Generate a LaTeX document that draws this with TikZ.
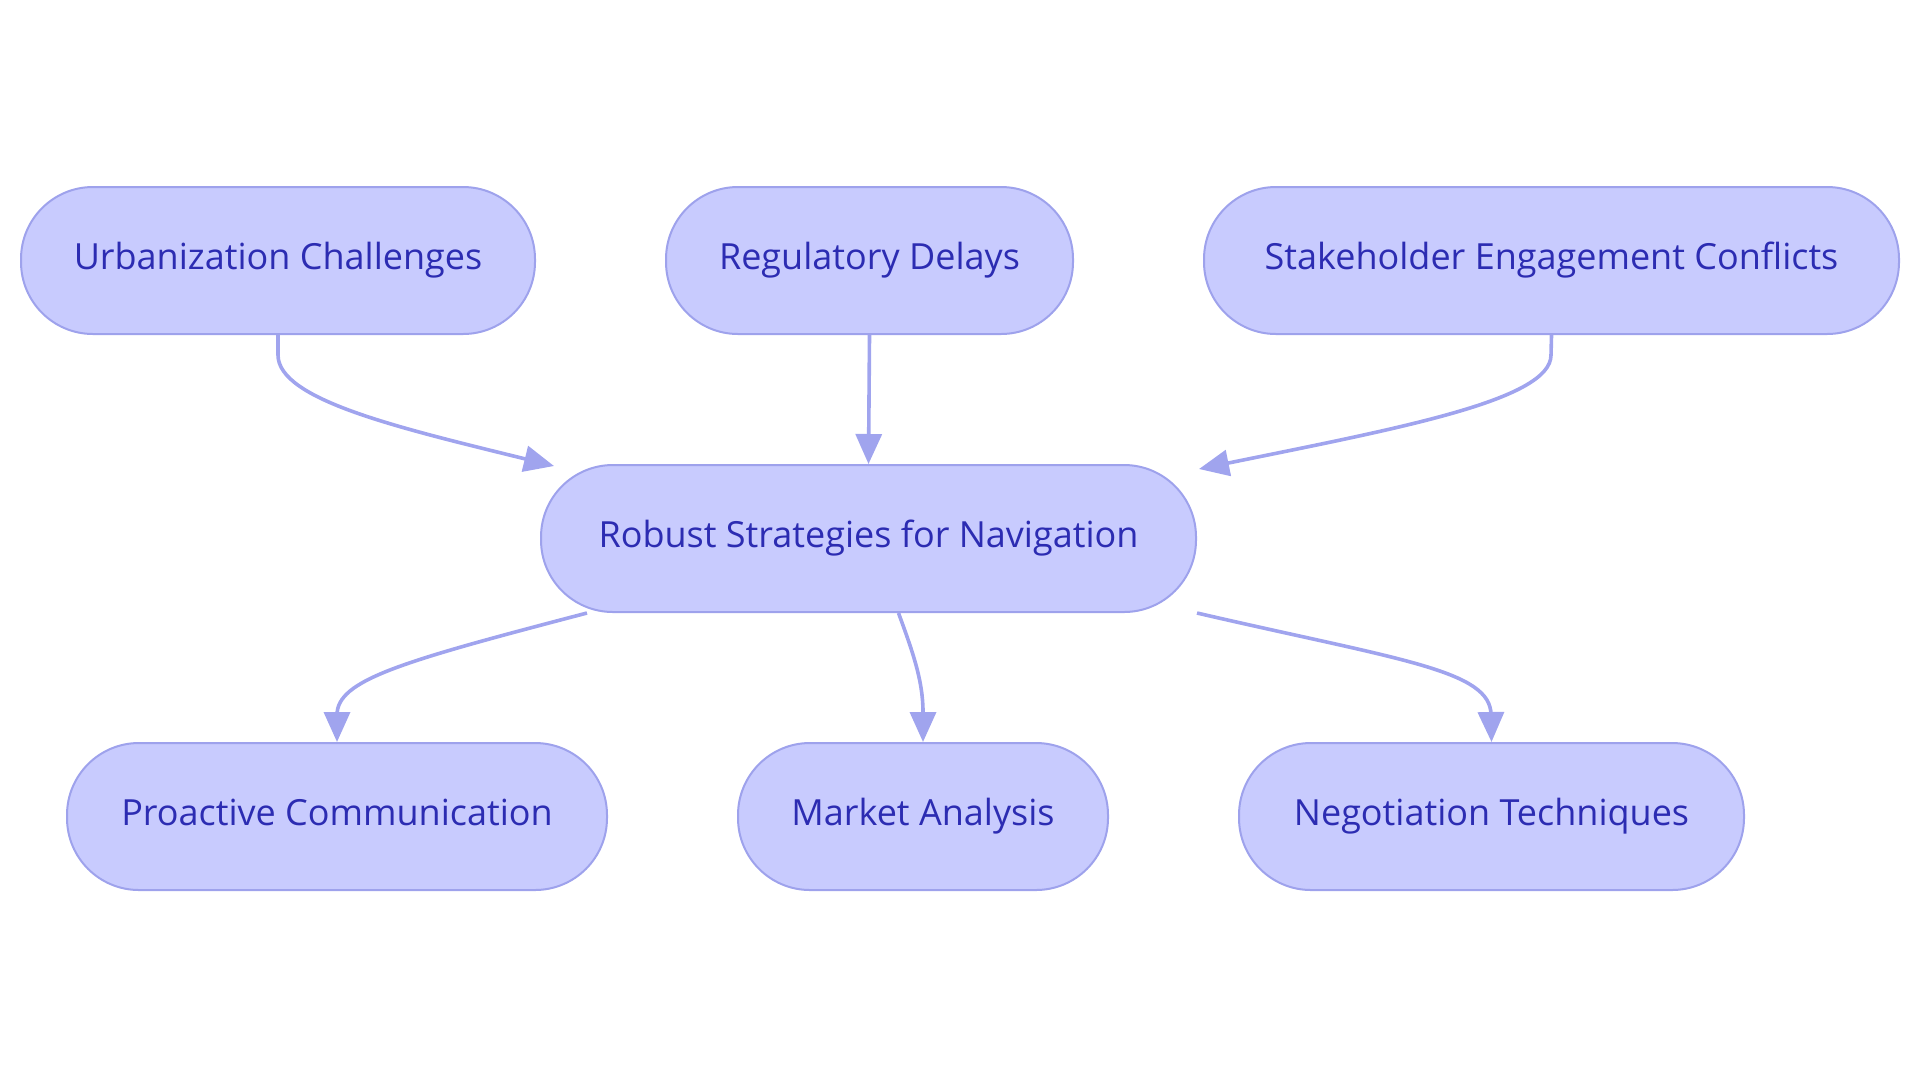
\documentclass[tikz,border=0pt]{standalone}
\usepackage{fontspec}
\setmainfont{Open Sans}
\usetikzlibrary{arrows.meta}
\definecolor{nfill}{HTML}{C8CBFE}
\definecolor{nline}{HTML}{9EA2EC}
\definecolor{ntext}{HTML}{2C2CB2}
\definecolor{eline}{HTML}{A0A4EE}
\tikzset{
  box/.style={draw=nline, line width=1pt, fill=nfill, rounded corners=36pt,
    minimum height=73.5pt, inner sep=0pt, text=ntext,
    text height=12.5pt, text depth=3.5pt,
    font=\fontsize{18pt}{21pt}\selectfont},
  conn/.style={draw=eline, line width=1.8pt,
    -{Triangle[length=15pt,width=13pt]}}
}
\begin{document}
\begin{tikzpicture}[x=0.5pt,y=-0.5pt]
\useasboundingbox (0,0) rectangle (1920,1083);
\node[box, minimum width=257pt] (U) at (278,260.5) {Urbanization Challenges};
\node[box, minimum width=203.5pt] (R) at (869.5,260.5) {Regulatory Delays};
\node[box, minimum width=347.5pt] (S) at (1551.5,260.5) {Stakeholder Engagement Conflicts};
\node[box, minimum width=327.5pt] (rob) at (868.5,538.5) {Robust Strategies for Navigation};
\node[box, minimum width=270pt] (P) at (337,816.5) {Proactive Communication};
\node[box, minimum width=185pt] (M) at (923,816.5) {Market Analysis};
\node[box, minimum width=252.5pt] (N) at (1491.5,816.5) {Negotiation Techniques};

\draw[conn] (U.south) -- (278,355) .. controls (278,400) and (400,428) .. ([xshift=7pt,yshift=-1pt]rob.north west);
\draw[conn] (R.south) -- (rob.north);
\draw[conn] (S.south) -- (1551,355) .. controls (1551,400) and (1400,428) .. ([xshift=1pt,yshift=-2.5pt]rob.north east);
\draw[conn] ([xshift=23.5pt]rob.south west) .. controls (400,662) and (337,680) .. (337,715) -- (P.north);
\draw[conn] ([xshift=15pt]rob.south) .. controls (912,650) and (923,680) .. (923,712) -- (M.north);
\draw[conn] (rob.south east) .. controls (1400,660) and (1491,670) .. (1491,715) -- (N.north);
\end{tikzpicture}
\end{document}
